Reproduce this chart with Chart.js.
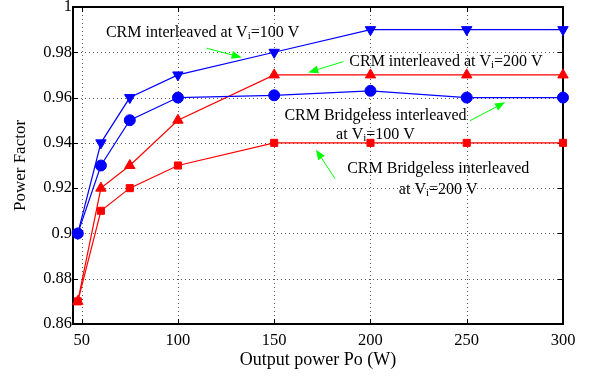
<!DOCTYPE html>
<html><head><meta charset="utf-8">
<script src="https://cdn.jsdelivr.net/npm/chart.js@4.4.0/dist/chart.umd.min.js"></script>
<style>html,body{margin:0;padding:0;background:#fff}canvas{display:block}</style>
</head><body>
<canvas id="c" width="603" height="377"></canvas>
<script>
// ---- data ----
const outputPower = [48, 60, 75, 100, 150, 200, 250, 300];
const pfInterleaved100 = [0.90, 0.94, 0.96, 0.97, 0.98, 0.99, 0.99, 0.99];
const pfBridgeless100  = [0.90, 0.93, 0.95, 0.96, 0.961, 0.963, 0.96, 0.96];
const pfInterleaved200 = [0.87, 0.92, 0.93, 0.95, 0.97, 0.97, 0.97, 0.97];
const pfBridgeless200  = [0.87, 0.91, 0.92, 0.93, 0.94, 0.94, 0.94, 0.94];
const xTicks = [50, 100, 150, 200, 250, 300];
const xTickLabels = ['50', '100', '150', '200', '250', '300'];
const yTicks = [0.86, 0.88, 0.90, 0.92, 0.94, 0.96, 0.98, 1.00];
const yTickLabels = ['0.86', '0.88', '0.9', '0.92', '0.94', '0.96', '0.98', '1'];
const xTitle = 'Output power Po (W)';
const yTitle = 'Power Factor';
// annotations in data coordinates (text lines, "_{}" = subscript)
const annotations = [
  {lines: ['CRM interleaved at V_{i}=100 V'], x: 62.6, ys: [0.9887], align: 'left',
   from: [114.9, 0.9818], to: [133.1, 0.9777]},
  {lines: ['CRM interleaved at V_{i}=200 V'], x: 189.0, ys: [0.9759], align: 'left',
   from: [185.9, 0.9759], to: [167.7, 0.9711]},
  {lines: ['CRM Bridgeless interleaved', 'at V_{i}=100 V'], x: 202.6, ys: [0.9520, 0.9437], align: 'center',
   from: [251.7, 0.9498], to: [269.9, 0.9579]},
  {lines: ['CRM Bridgeless interleaved', 'at V_{i}=200 V'], x: 235.2, ys: [0.9286, 0.9194], align: 'center',
   from: [181.6, 0.9242], to: [171.7, 0.9370]}
];

const FONT = "'Liberation Serif', 'Times New Roman', serif";
const pts = arr => outputPower.map((x, i) => ({x, y: arr[i]}));

function parseParts(s) {
  const parts = []; const re = /_\{(.*?)\}/g; let last = 0, m;
  while ((m = re.exec(s))) {
    if (m.index > last) parts.push({t: s.slice(last, m.index), sub: false});
    parts.push({t: m[1], sub: true}); last = re.lastIndex;
  }
  if (last < s.length) parts.push({t: s.slice(last), sub: false});
  return parts;
}

const framePlugin = {
  id: 'frame',
  beforeDatasetsDraw(chart) {
    const {ctx, chartArea: a, scales: {x, y}} = chart;
    ctx.save();
    ctx.strokeStyle = '#555'; ctx.lineWidth = 1; ctx.setLineDash([1, 3]);
    xTicks.forEach(v => {
      const px = Math.round(x.getPixelForValue(v)) + 0.5;
      ctx.beginPath(); ctx.moveTo(px, a.top); ctx.lineTo(px, a.bottom); ctx.stroke();
    });
    yTicks.forEach(v => {
      const py = Math.round(y.getPixelForValue(v)) + 0.5;
      ctx.beginPath(); ctx.moveTo(a.left, py); ctx.lineTo(a.right, py); ctx.stroke();
    });
    ctx.setLineDash([]);
    ctx.strokeStyle = '#000'; ctx.lineWidth = 1;
    const tl = 5;
    xTicks.forEach(v => {
      const px = Math.round(x.getPixelForValue(v)) + 0.5;
      ctx.beginPath(); ctx.moveTo(px, a.bottom); ctx.lineTo(px, a.bottom - tl);
      ctx.moveTo(px, a.top); ctx.lineTo(px, a.top + tl); ctx.stroke();
    });
    yTicks.forEach(v => {
      const py = Math.round(y.getPixelForValue(v)) + 0.5;
      ctx.beginPath(); ctx.moveTo(a.left, py); ctx.lineTo(a.left + tl, py);
      ctx.moveTo(a.right, py); ctx.lineTo(a.right - tl, py); ctx.stroke();
    });
    ctx.lineWidth = 2;
    ctx.strokeRect(a.left, a.top, a.right - a.left, a.bottom - a.top);
    ctx.restore();
  },
  afterDatasetsDraw(chart) {
    const {ctx, scales: {x, y}} = chart;
    ctx.save();
    const mainFont = '16px ' + FONT, subFont = '11px ' + FONT;
    ctx.fillStyle = '#000'; ctx.textBaseline = 'middle';
    annotations.forEach(an => {
      an.lines.forEach((line, li) => {
        const parts = parseParts(line);
        let total = 0;
        parts.forEach(p => { ctx.font = p.sub ? subFont : mainFont; p.w = ctx.measureText(p.t).width; total += p.w; });
        let px = x.getPixelForValue(an.x);
        if (an.align === 'center') px -= total / 2;
        const py = y.getPixelForValue(an.ys[li]);
        ctx.textAlign = 'left';
        parts.forEach(p => {
          ctx.font = p.sub ? subFont : mainFont;
          ctx.fillText(p.t, px, p.sub ? py + 4 : py);
          px += p.w;
        });
      });
      // arrow
      const x0 = x.getPixelForValue(an.from[0]), y0 = y.getPixelForValue(an.from[1]);
      const x1 = x.getPixelForValue(an.to[0]), y1 = y.getPixelForValue(an.to[1]);
      const ang = Math.atan2(y1 - y0, x1 - x0), L = 10, W = 4;
      const bx = x1 - L * Math.cos(ang), by = y1 - L * Math.sin(ang);
      ctx.strokeStyle = '#00ff00'; ctx.fillStyle = '#00ff00'; ctx.lineWidth = 1;
      ctx.beginPath(); ctx.moveTo(x0, y0); ctx.lineTo(bx, by); ctx.stroke();
      ctx.beginPath(); ctx.moveTo(x1, y1);
      ctx.lineTo(bx + W * Math.sin(ang), by - W * Math.cos(ang));
      ctx.lineTo(bx - W * Math.sin(ang), by + W * Math.cos(ang));
      ctx.closePath(); ctx.fill();
      ctx.fillStyle = '#000';
    });
    ctx.restore();
  }
};

const mk = (label, arr, color, style, radius, rotation) => ({
  label, data: pts(arr), borderColor: color, backgroundColor: color,
  borderWidth: 1.2, pointStyle: style, pointRadius: radius, pointRotation: rotation || 0,
  pointBorderWidth: 1, pointBackgroundColor: color, pointBorderColor: color,
  tension: 0, clip: false
});

new Chart(document.getElementById('c'), {
  type: 'line',
  data: {
    datasets: [
      mk('CRM Bridgeless interleaved at Vi=100 V', pfBridgeless100, '#0000ff', 'circle', 5.5),
      mk('CRM interleaved at Vi=200 V', pfInterleaved200, '#ff0000', 'triangle', 6),
      mk('CRM interleaved at Vi=100 V', pfInterleaved100, '#0000ff', 'triangle', 6, 180),
      mk('CRM Bridgeless interleaved at Vi=200 V', pfBridgeless200, '#ff0000', 'rect', 5)
    ]
  },
  options: {
    responsive: false, animation: false,
    layout: {padding: {top: 6, right: 40, left: 0, bottom: 0}},
    plugins: {legend: {display: false}, tooltip: {enabled: false}},
    scales: {
      x: {
        type: 'linear', min: 45.5, max: 300,
        afterBuildTicks: s => { s.ticks = xTicks.map(v => ({value: v})); },
        afterFit: s => { s.height = 53; s.paddingLeft = 0; s.paddingRight = 0; },
        grid: {display: false, drawTicks: false}, border: {display: false},
        ticks: {callback: (v, i) => xTickLabels[i], color: '#000', font: {family: FONT, size: 16.5}, padding: 7, maxRotation: 0},
        title: {display: true, text: xTitle, color: '#000', font: {family: FONT, size: 18}, padding: {top: 0, bottom: 6}}
      },
      y: {
        type: 'linear', min: 0.86, max: 1,
        afterBuildTicks: s => { s.ticks = yTicks.map(v => ({value: v})); },
        afterFit: s => { s.width = 73; s.paddingTop = 0; s.paddingBottom = 0; },
        grid: {display: false, drawTicks: false}, border: {display: false},
        ticks: {callback: (v, i) => yTickLabels[i], color: '#000', font: {family: FONT, size: 16.5}, padding: 1},
        title: {display: true, text: yTitle, color: '#000', font: {family: FONT, size: 17}, padding: {top: 10, bottom: 0}}
      }
    }
  },
  plugins: [framePlugin]
});
</script>
</body></html>
